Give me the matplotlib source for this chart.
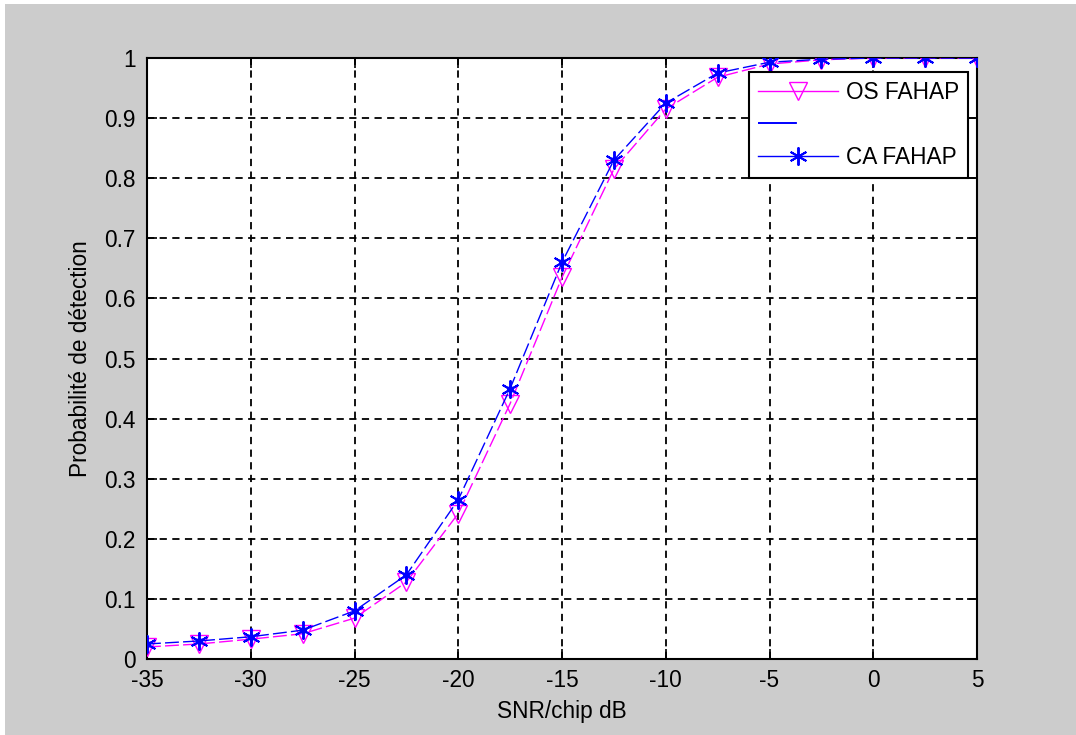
import matplotlib
matplotlib.use("Agg")
import matplotlib.pyplot as plt
from matplotlib.lines import Line2D
from matplotlib.patches import Rectangle

snr = [-35, -32.5, -30, -27.5, -25, -22.5, -20, -17.5, -15, -12.5, -10, -7.5, -5, -2.5, 0, 2.5, 5]
pd_os = [0.020, 0.025, 0.033, 0.042, 0.068, 0.128, 0.242, 0.425, 0.635, 0.815, 0.915, 0.968, 0.990, 0.997, 1.0, 1.0, 1.0]
pd_ca = [0.025, 0.030, 0.037, 0.048, 0.080, 0.140, 0.265, 0.450, 0.660, 0.830, 0.925, 0.975, 0.993, 0.998, 1.0, 1.0, 1.0]
xticks = [-35, -30, -25, -20, -15, -10, -5, 0, 5]
yticks = [0, 0.1, 0.2, 0.3, 0.4, 0.5, 0.6, 0.7, 0.8, 0.9, 1.0]
ytick_labels = ["0", "0.1", "0.2", "0.3", "0.4", "0.5", "0.6", "0.7", "0.8", "0.9", "1"]
labels = ["OS FAHAP", " ", "CA FAHAP"]

plt.rcParams['font.family'] = ['Liberation Sans', 'DejaVu Sans']
FS = 16.3

fig = plt.figure(figsize=(10.76, 7.35), dpi=100, facecolor='white')
fig.patches.append(Rectangle((5/1076, 0), 1, 1 - 4/735, transform=fig.transFigure,
                             facecolor='#cccccc', edgecolor='none', zorder=-10))
ax = fig.add_axes([147/1076, 1 - 659/735, 830/1076, 601/735])
ax.set_facecolor('white')

MAG = '#ff00ff'
BLU = '#0000ff'
ast = (6, 2, 0)
dash = (0, (10, 3))
ax.plot(snr, pd_os, color=MAG, lw=1.0, linestyle=dash, marker='v', markersize=13,
        markerfacecolor='none', markeredgecolor=MAG, markeredgewidth=1.0, zorder=3)
ax.plot(snr, pd_ca, color=BLU, lw=1.0, linestyle=dash, marker=ast, markersize=13,
        markeredgecolor=BLU, markeredgewidth=1.4, zorder=4)
ax.plot(snr, pd_ca, linestyle='none', marker='o', markersize=4, color=BLU, zorder=5)

ax.set_xlim(-35, 5)
ax.set_ylim(0, 1)
ax.set_xticks(xticks)
ax.set_xticklabels([str(t) for t in xticks])
ax.set_yticks(yticks)
ax.set_yticklabels(ytick_labels)
ax.tick_params(direction='in', length=7, width=1.2, labelsize=FS, top=True, right=True,
               colors='black')
ax.tick_params(axis='x', pad=7)
ax.tick_params(axis='y', pad=8)
ax.grid(True, color='black', linestyle=(0, (4, 3)), linewidth=1.3)
for s in ax.spines.values():
    s.set_linewidth(1.5)
    s.set_color('black')

ax.set_xlabel('SNR/chip dB', fontsize=FS, labelpad=6)
ax.set_ylabel('Probabilité de détection', fontsize=FS, labelpad=9)

handles = [
    Line2D([], [], color=MAG, lw=1.0, marker='v', markersize=13, markerfacecolor='none',
           markeredgecolor=MAG),
    Line2D([], [], color=BLU, lw=1.4, linestyle=(0, (20, 40))),
    Line2D([], [], color=BLU, lw=1.0, marker=ast, markersize=13, markeredgewidth=1.4),
]
leg = ax.legend(handles, labels, loc='upper right', bbox_to_anchor=(0.989, 0.977),
                fontsize=FS, handlelength=3.5, fancybox=False, framealpha=1,
                edgecolor='black', borderpad=0.4, labelspacing=0.42, handletextpad=0.35,
                borderaxespad=0)
leg.get_frame().set_linewidth(1.5)
leg.set_zorder(10)

fig.savefig('out.png', dpi=100, facecolor=fig.get_facecolor())
